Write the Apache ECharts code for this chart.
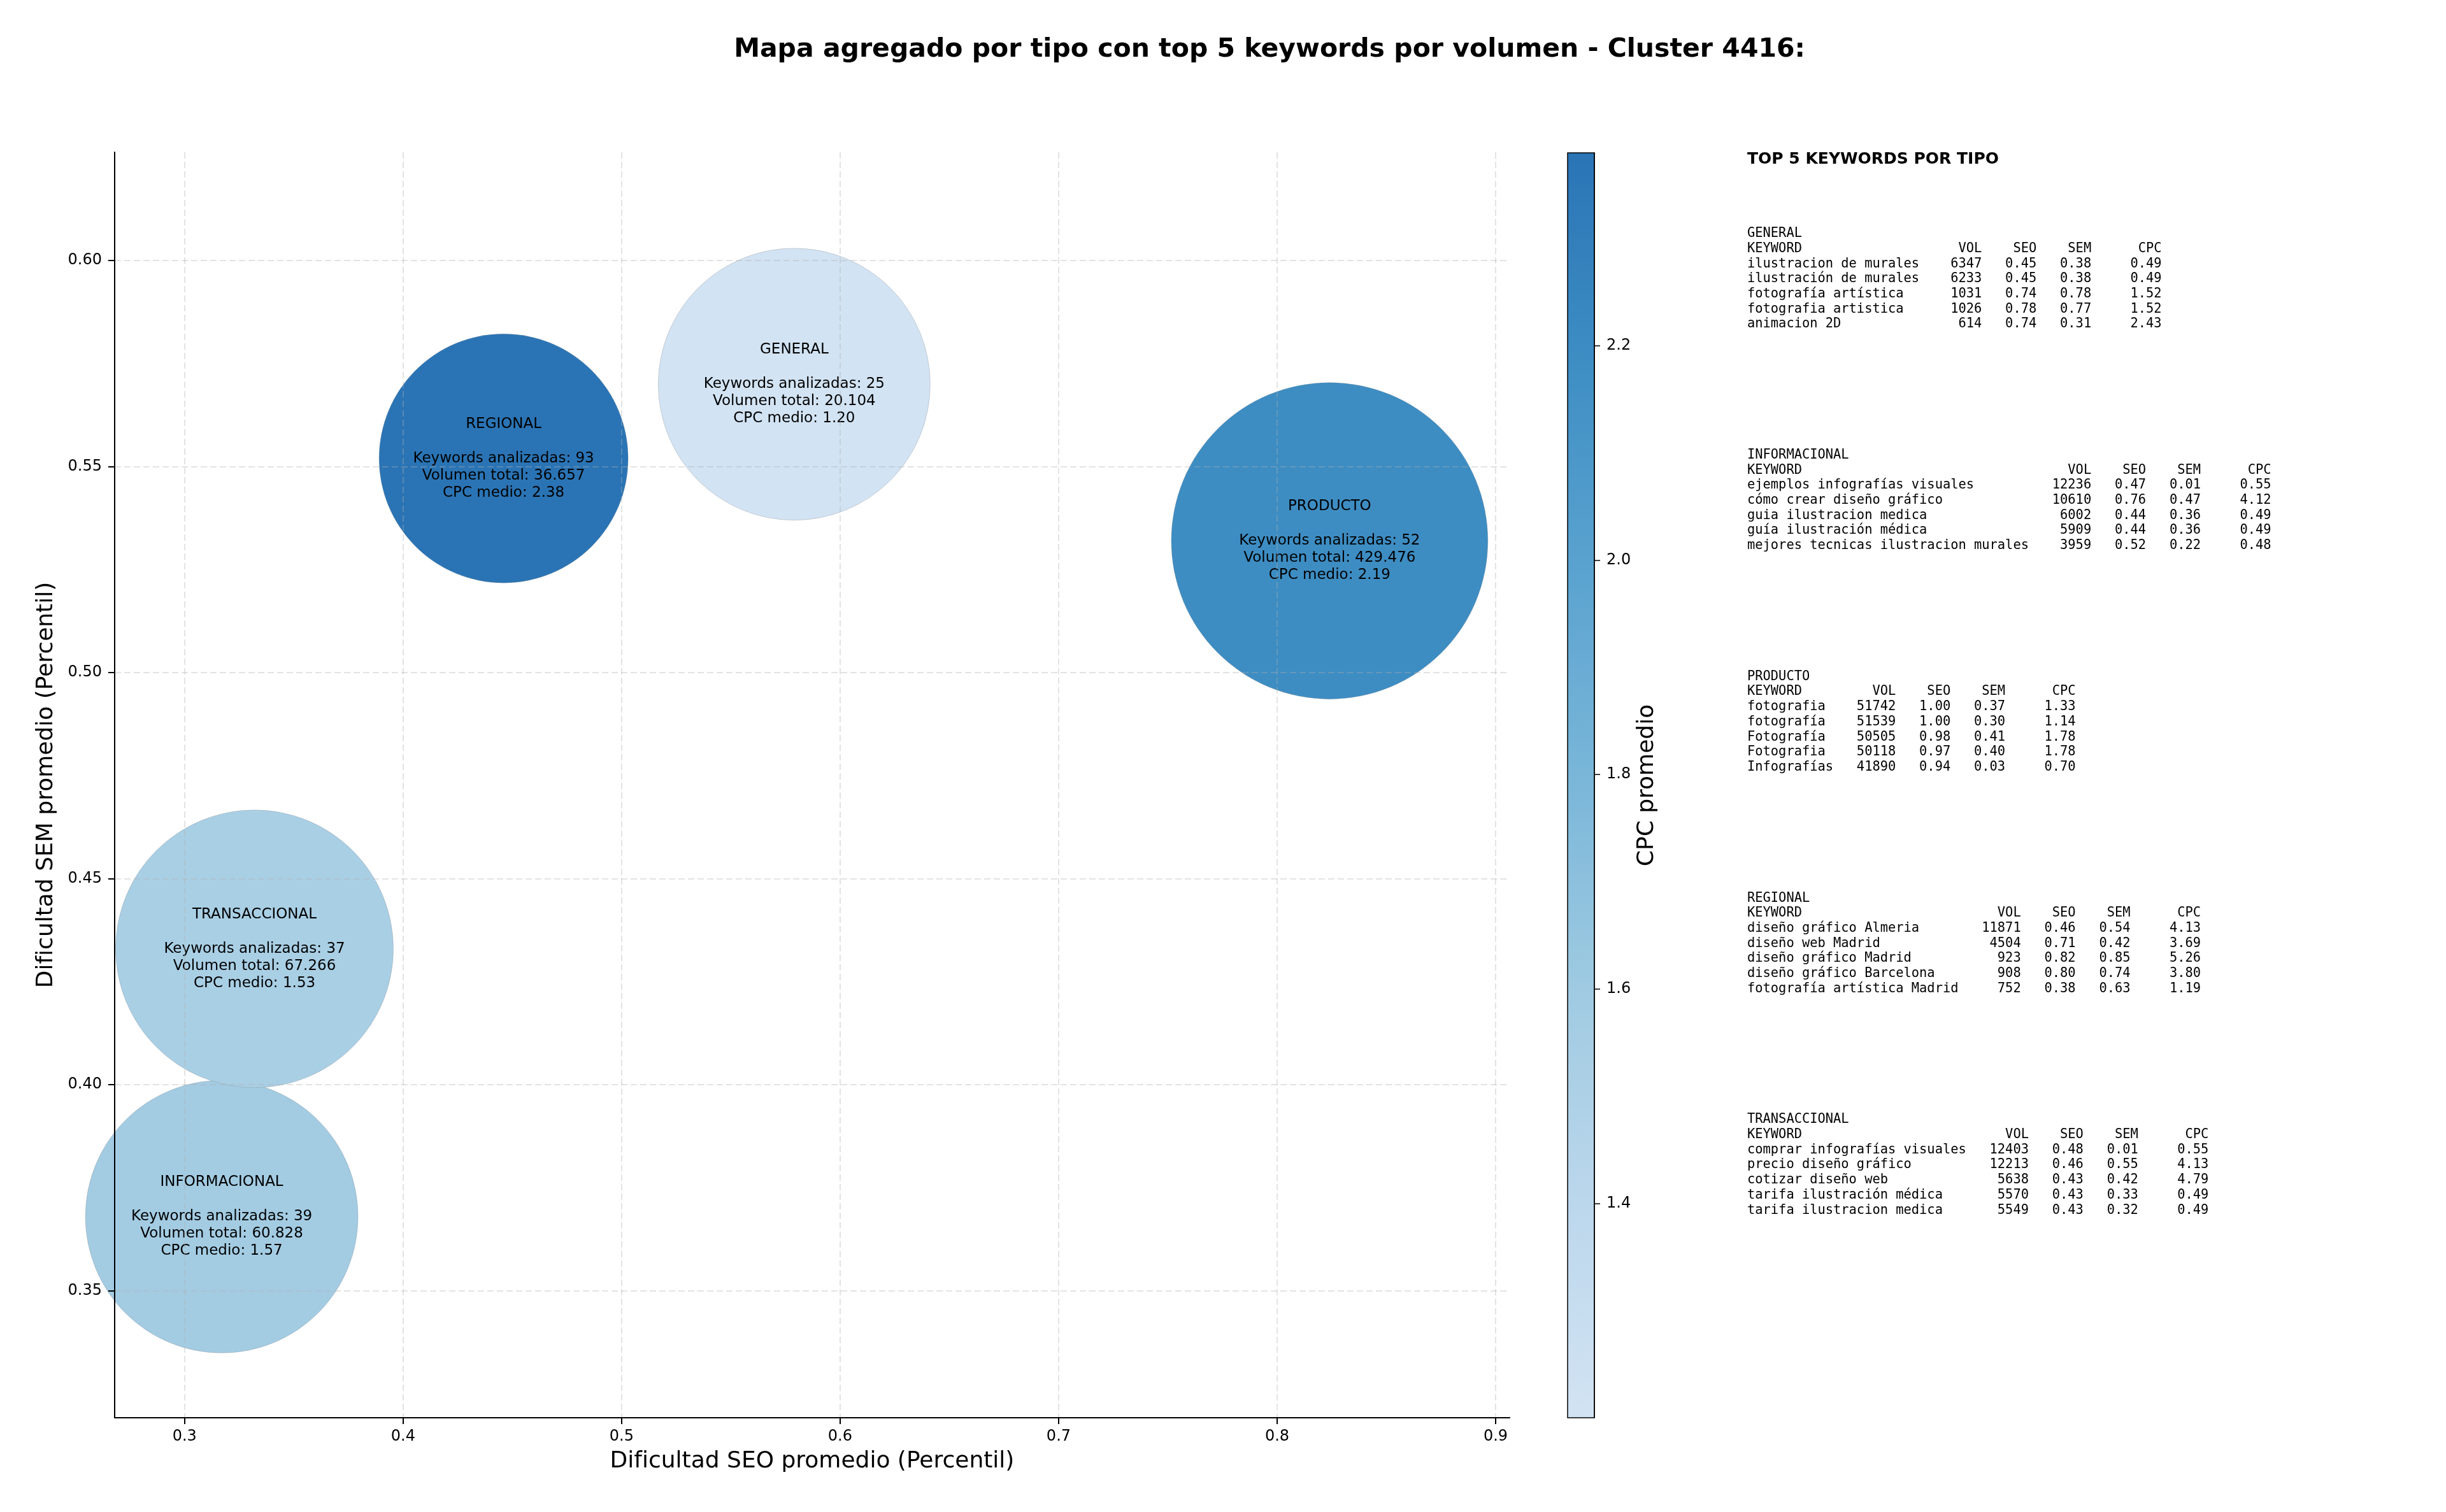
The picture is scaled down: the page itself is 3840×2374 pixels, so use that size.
<!DOCTYPE html>
<html lang="es">
<head>
<meta charset="utf-8">
<title>Mapa agregado por tipo - Cluster 4416</title>
<script src="https://cdn.jsdelivr.net/npm/echarts@6/dist/echarts.min.js"></script>
<style>
    html, body { margin: 0; padding: 0; background: #fff; }
    #main { width: 3840px; height: 2374px; }
</style>
</head>
<body>
<div id="main"></div>
<script>
// datos agregados por tipo
var tipos = ['GENERAL', 'INFORMACIONAL', 'PRODUCTO', 'REGIONAL', 'TRANSACCIONAL'];
var seoMedio = [0.579, 0.317, 0.824, 0.446, 0.332];
var semMedio = [0.570, 0.368, 0.532, 0.552, 0.433];
var numKeywords = [25, 39, 52, 93, 37];
var volumenTotal = [20104, 60828, 429476, 36657, 67266];
var cpcMedio = [1.20, 1.57, 2.19, 2.38, 1.53];
// diametro de cada burbuja
var tamanoBurbuja = [427, 428, 497, 391, 436];

var xTicks = [0.3, 0.4, 0.5, 0.6, 0.7, 0.8, 0.9];
var yTicks = [0.35, 0.40, 0.45, 0.50, 0.55, 0.60];
var cpcTicks = [1.4, 1.6, 1.8, 2.0, 2.2];

// top 5 keywords por tipo: keyword, vol, seo, sem, cpc
var topGeneral = [
    ['ilustracion de murales', 6347, 0.45, 0.38, 0.49],
    ['ilustración de murales', 6233, 0.45, 0.38, 0.49],
    ['fotografía artística', 1031, 0.74, 0.78, 1.52],
    ['fotografia artistica', 1026, 0.78, 0.77, 1.52],
    ['animacion 2D', 614, 0.74, 0.31, 2.43]
];
var topInformacional = [
    ['ejemplos infografías visuales', 12236, 0.47, 0.01, 0.55],
    ['cómo crear diseño gráfico', 10610, 0.76, 0.47, 4.12],
    ['guia ilustracion medica', 6002, 0.44, 0.36, 0.49],
    ['guía ilustración médica', 5909, 0.44, 0.36, 0.49],
    ['mejores tecnicas ilustracion murales', 3959, 0.52, 0.22, 0.48]
];
var topProducto = [
    ['fotografia', 51742, 1.00, 0.37, 1.33],
    ['fotografía', 51539, 1.00, 0.30, 1.14],
    ['Fotografía', 50505, 0.98, 0.41, 1.78],
    ['Fotografia', 50118, 0.97, 0.40, 1.78],
    ['Infografías', 41890, 0.94, 0.03, 0.70]
];
var topRegional = [
    ['diseño gráfico Almeria', 11871, 0.46, 0.54, 4.13],
    ['diseño web Madrid', 4504, 0.71, 0.42, 3.69],
    ['diseño gráfico Madrid', 923, 0.82, 0.85, 5.26],
    ['diseño gráfico Barcelona', 908, 0.80, 0.74, 3.80],
    ['fotografía artística Madrid', 752, 0.38, 0.63, 1.19]
];
var topTransaccional = [
    ['comprar infografías visuales', 12403, 0.48, 0.01, 0.55],
    ['precio diseño gráfico', 12213, 0.46, 0.55, 4.13],
    ['cotizar diseño web', 5638, 0.43, 0.42, 4.79],
    ['tarifa ilustración médica', 5570, 0.43, 0.33, 0.49],
    ['tarifa ilustracion medica', 5549, 0.43, 0.32, 0.49]
];
var tablas = [topGeneral, topInformacional, topProducto, topRegional, topTransaccional];

var SANS = '"DejaVu Sans", "Liberation Sans", sans-serif';
var MONO = '"DejaVu Sans Mono", "Liberation Mono", monospace';

// escala Blues recortada
var blues = ['#d2e3f3', '#bcd7ec', '#a0cbe2', '#7bb7d9', '#5ba3d0', '#3e8ec4', '#2a74b5'];

function miles(v) {
    return String(v).replace(/\B(?=(\d{3})+(?!\d))/g, '.');
}

function tablaTexto(nombre, filas) {
    var w = Math.max.apply(null, filas.map(function (f) { return f[0].length; }));
    var lines = [nombre,
        'KEYWORD'.padEnd(w) + 'VOL'.padStart(8) + 'SEO'.padStart(7) + 'SEM'.padStart(7) + 'CPC'.padStart(9)];
    filas.forEach(function (f) {
        lines.push(f[0].padEnd(w) + String(f[1]).padStart(8) + f[2].toFixed(2).padStart(7)
            + f[3].toFixed(2).padStart(7) + f[4].toFixed(2).padStart(9));
    });
    return lines.join('\n');
}

var puntos = tipos.map(function (t, i) {
    return [seoMedio[i], semMedio[i], cpcMedio[i], i];
});

var graphics = [{
    type: 'text', left: 2743, top: 238,
    style: { text: 'TOP 5 KEYWORDS POR TIPO', font: 'bold 25px ' + SANS, fill: '#000' }
}];
tipos.forEach(function (t, i) {
    graphics.push({
        type: 'text', left: 2743, top: 355 + i * 347.8,
        style: { text: tablaTexto(t, tablas[i]), fontFamily: MONO, fontSize: 20.4, lineHeight: 23.7, fill: '#000' }
    });
});

var cpcMin = Math.min.apply(null, cpcMedio);
var cpcMax = Math.max.apply(null, cpcMedio);

var chart = echarts.init(document.getElementById('main'), null, { renderer: 'canvas' });
chart.setOption({
    animation: false,
    backgroundColor: '#fff',
    textStyle: { fontFamily: SANS },
    title: {
        text: 'Mapa agregado por tipo con top 5 keywords por volumen - Cluster 4416:',
        left: 1993, top: 58, textAlign: 'center', padding: 0,
        textStyle: { fontSize: 41, fontWeight: 'bold', color: '#000', fontFamily: SANS }
    },
    grid: [
        { left: 180, top: 239, right: 1470, bottom: 148, show: false },
        { left: 2461, top: 240, right: 1337, bottom: 148, show: true, z: 5,
          backgroundColor: 'transparent', borderColor: '#000', borderWidth: 1.5 }
    ],
    xAxis: [{
        type: 'value', gridIndex: 0, min: 0.268, max: 0.9064, z: 3,
        name: 'Dificultad SEO promedio (Percentil)', nameLocation: 'middle', nameGap: 51,
        nameTextStyle: { fontSize: 36, color: '#000', fontFamily: SANS },
        axisLine: { show: true, onZero: false, lineStyle: { color: '#000', width: 2 } },
        axisTick: { show: true, length: 10, customValues: xTicks, lineStyle: { color: '#000', width: 2 } },
        axisLabel: { customValues: xTicks, fontSize: 24, color: '#000', margin: 18,
            formatter: function (v) { return v.toFixed(1); } },
        splitLine: { show: true, lineStyle: { color: 'rgba(176,176,176,0.35)', width: 2, type: [10, 5] } }
    }, {
        type: 'value', gridIndex: 1, show: false, min: 0, max: 1
    }],
    yAxis: [{
        type: 'value', gridIndex: 0, min: 0.3192, max: 0.6263, z: 3,
        name: 'Dificultad SEM promedio (Percentil)', nameLocation: 'middle', nameGap: 89, nameRotate: 90,
        nameTextStyle: { fontSize: 36, color: '#000', fontFamily: SANS },
        axisLine: { show: true, onZero: false, lineStyle: { color: '#000', width: 2 } },
        axisTick: { show: true, length: 10, customValues: yTicks, lineStyle: { color: '#000', width: 2 } },
        axisLabel: { customValues: yTicks, fontSize: 24, color: '#000', margin: 20,
            formatter: function (v) { return v.toFixed(2); } },
        splitLine: { show: true, lineStyle: { color: 'rgba(176,176,176,0.35)', width: 2, type: [10, 5] } }
    }, {
        type: 'value', gridIndex: 1, position: 'right', min: cpcMin, max: cpcMax, z: 6,
        name: 'CPC promedio', nameLocation: 'middle', nameGap: 65, nameRotate: 90,
        nameTextStyle: { fontSize: 36, color: '#000', fontFamily: SANS },
        axisLine: { show: true, onZero: false, lineStyle: { color: '#000', width: 1.5 } },
        axisTick: { show: true, length: 9, customValues: cpcTicks, lineStyle: { color: '#000', width: 1.5 } },
        axisLabel: { customValues: cpcTicks, fontSize: 24, color: '#000', margin: 19,
            formatter: function (v) { return v.toFixed(1); } },
        splitLine: { show: false }
    }],
    visualMap: {
        type: 'continuous', seriesIndex: 0, dimension: 2,
        min: cpcMin, max: cpcMax, calculable: false, realtime: false,
        left: 2461, top: 240, itemWidth: 42, itemHeight: 1986, padding: 0,
        text: null, showLabel: false,
        inRange: { color: blues }
    },
    graphic: graphics,
    series: [{
        type: 'scatter', xAxisIndex: 0, yAxisIndex: 0,
        data: puntos,
        symbol: 'circle',
        symbolSize: function (d) { return tamanoBurbuja[d[3]]; },
        itemStyle: { opacity: 1, borderColor: 'rgba(128,128,128,0.3)', borderWidth: 1 },
        emphasis: { disabled: true },
        label: {
            show: true, position: 'inside', color: '#000', fontSize: 23, lineHeight: 27,
            fontFamily: SANS, align: 'center',
            formatter: function (p) {
                var i = p.data[3];
                return tipos[i] + '\n\nKeywords analizadas: ' + numKeywords[i]
                    + '\nVolumen total: ' + miles(volumenTotal[i])
                    + '\nCPC medio: ' + cpcMedio[i].toFixed(2);
            }
        }
    }]
});
</script>
</body>
</html>
